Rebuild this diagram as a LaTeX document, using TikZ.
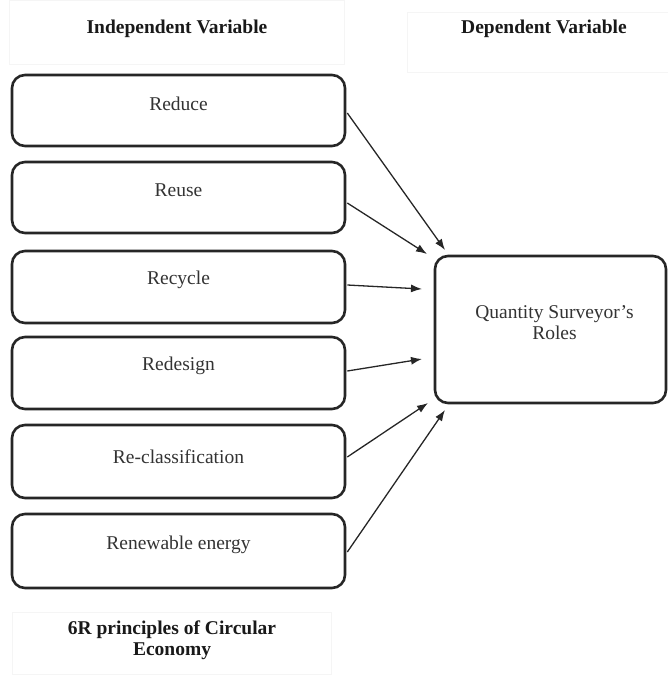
\documentclass[tikz,border=0pt]{standalone}
\usepackage{fontspec}
\setmainfont{Liberation Serif}
\usetikzlibrary{arrows.meta,calc}
\tikzset{
  rbox/.style={draw=black!85, line width=2.6pt, rounded corners=13pt, fill=white, inner sep=0pt},
  lbl/.style={font=\fontsize{19.5}{21}\selectfont, text=black!80, align=center, inner sep=0pt},
  hdr/.style={font=\fontsize{19.5}{21}\selectfont\bfseries, text=black!90, align=center, inner sep=0pt},
  faint/.style={draw=black!4, line width=0.8pt, fill=none, inner sep=0pt},
  arr/.style={draw=black!85, line width=1.3pt, -{Latex[length=11pt,width=8pt]}}
}
\begin{document}
\begin{tikzpicture}[x=1pt,y=-1pt]
\useasboundingbox (0,0) rectangle (667,675);
% faint header frames
\node[faint, minimum width=335, minimum height=64] (fi) at (177,32) {};
\node[faint, minimum width=262, minimum height=60] (fd) at (538,42) {};
\node[faint, minimum width=319, minimum height=62] (fb) at (172,643) {};
% headers
\node[hdr] (hi) at (177,29) {Independent Variable};
\node[hdr] (hd) at (544,29) {Dependent Variable};
\node[hdr] (hb) at (172,640) {6R principles of Circular\\Economy};
% left boxes
\node[rbox, minimum width=333, minimum height=71] (b1) at (178.5,110.5) {};
\node[rbox, minimum width=333, minimum height=71] (b2) at (178.5,197.5) {};
\node[rbox, minimum width=333, minimum height=72] (b3) at (178.5,287) {};
\node[rbox, minimum width=333, minimum height=72] (b4) at (178.5,373) {};
\node[rbox, minimum width=333, minimum height=73] (b5) at (178.5,461.5) {};
\node[rbox, minimum width=333, minimum height=74] (b6) at (178.5,551) {};
\node[lbl] (t1) at ($(b1.center)+(0,-7)$) {Reduce};
\node[lbl] (t2) at ($(b2.center)+(0,-7)$) {Reuse};
\node[lbl] (t3) at ($(b3.center)+(0,-7)$) {Recycle};
\node[lbl] (t4) at ($(b4.center)+(0,-7)$) {Redesign};
\node[lbl] (t5) at ($(b5.center)+(0,-5)$) {Re-classification};
\node[lbl] (t6) at ($(b6.center)+(0,-6)$) {Renewable energy};
% right box
\node[rbox, minimum width=231, minimum height=147] (q) at (550.5,329.5) {};
\node[lbl] (qt) at ($(q.center)+(4,-6.5)$) {Quantity Surveyor’s\\Roles};
% arrow tips
\coordinate (e1) at (445,250);
\coordinate (e2) at (427,254);
\coordinate (e3) at (422,289);
\coordinate (e4) at (422,359);
\coordinate (e5) at (428,403);
\coordinate (e6) at (445,410);
\draw[arr] ($(b1.east)+(1,2.5)$) -- (e1);
\draw[arr] ($(b2.east)+(1,5.5)$) -- (e2);
\draw[arr] ($(b3.east)+(1,-2)$) -- (e3);
\draw[arr] ($(b4.east)+(1,-2)$) -- (e4);
\draw[arr] ($(b5.east)+(1,-4.5)$) -- (e5);
\draw[arr] ($(b6.east)+(1,1)$) -- (e6);
\end{tikzpicture}
\end{document}
